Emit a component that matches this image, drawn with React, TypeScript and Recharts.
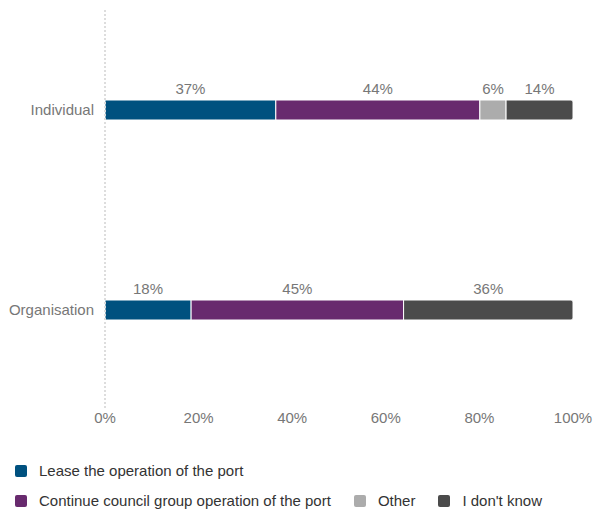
import React from 'react';
import { BarChart, Bar, XAxis, YAxis, LabelList } from 'recharts';

const categories = ['Individual', 'Organisation'];
const lease = [36.5, 18.4];
const council = [43.6, 45.4];
const other = [5.6, 0];
const dontKnow = [14.3, 36.2];
const xTicks = [0, 20, 40, 60, 80, 100];

const series = [
  { key: 'lease', name: 'Lease the operation of the port', color: '#00517f', values: lease },
  { key: 'council', name: 'Continue council group operation of the port', color: '#682a6e', values: council },
  { key: 'other', name: 'Other', color: '#acacac', values: other },
  { key: 'dontKnow', name: "I don't know", color: '#4b4b4b', values: dontKnow },
];

const data = categories.map((name, i) => {
  const row: Record<string, string | number> = { name };
  series.forEach(s => { row[s.key] = s.values[i]; });
  return row;
});

const font = '"Liberation Sans", Arial, sans-serif';

const LegendItem = ({ color, label }: { color: string; label: string }) => (
  <div style={{ display: 'flex', alignItems: 'center', marginRight: 23 }}>
    <div style={{ width: 12, height: 12, borderRadius: 2, background: color, marginRight: 12 }} />
    <span>{label}</span>
  </div>
);

const App = () => {
  return (
    <div style={{ position: 'absolute', left: 0, top: 0, width: 595, height: 512, fontFamily: font }}>
      <BarChart
        width={595}
        height={440}
        data={data}
        layout="vertical"
        margin={{ top: 10, right: 22, left: 0, bottom: 0 }}
      >
        <XAxis
          type="number"
          domain={[0, 100]}
          ticks={xTicks}
          tickFormatter={(v) => `${v}%`}
          axisLine={false}
          tickLine={false}
          tick={{ fill: '#777', fontSize: 15, fontFamily: font }}
          height={30}
          tickMargin={-4}
        />
        <YAxis
          dataKey="name"
          type="category"
          width={105}
          axisLine={{ stroke: '#ddd', strokeWidth: 2, strokeDasharray: '2 2' }}
          tickLine={false}
          tickMargin={5}
          tick={{ fill: '#777', fontSize: 15, fontFamily: font }}
        />
        {series.map((s, idx) => (
          <Bar
            key={s.key}
            dataKey={s.key}
            name={s.name}
            stackId="a"
            fill={s.color}
            stroke="#fff"
            strokeWidth={1}
            barSize={20}
            radius={idx === series.length - 1 ? [0, 2, 2, 0] : 0}
            isAnimationActive={false}
          >
            <LabelList
              dataKey={s.key}
              position="top"
              offset={6}
              formatter={(v: any) => (v ? `${Math.round(v)}%` : '')}
              style={{ fill: '#777', fontSize: 15, fontFamily: font }}
            />
          </Bar>
        ))}
      </BarChart>
      <div style={{ position: 'absolute', left: 15, top: 462, fontSize: 15, color: '#333', lineHeight: '18px' }}>
        <div style={{ display: 'flex', marginBottom: 12 }}>
          <LegendItem color={series[0].color} label={series[0].name} />
        </div>
        <div style={{ display: 'flex' }}>
          {series.slice(1).map(s => (
            <LegendItem key={s.key} color={s.color} label={s.name} />
          ))}
        </div>
      </div>
    </div>
  );
};

export default App;
